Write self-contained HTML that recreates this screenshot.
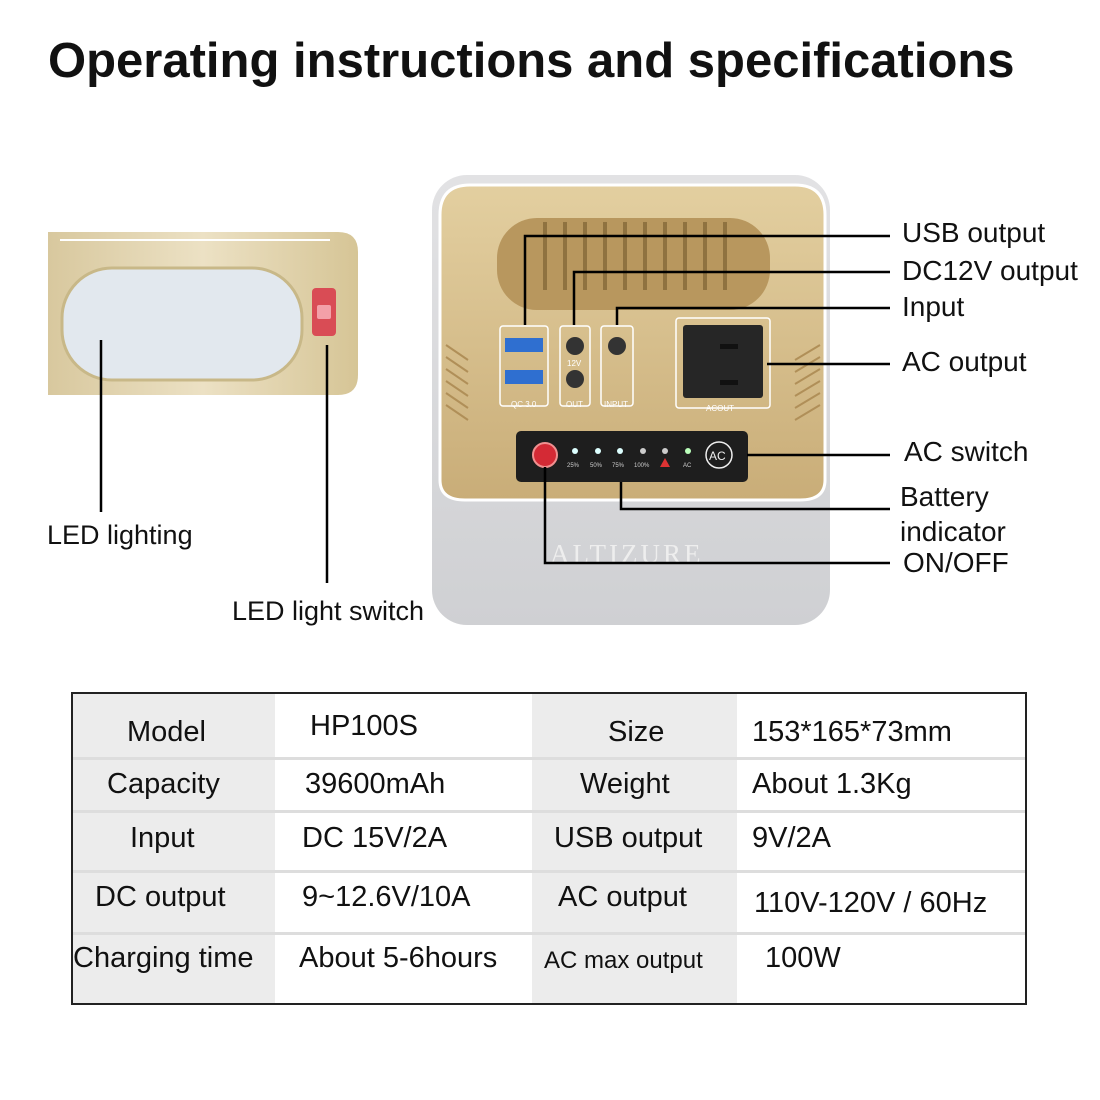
<!DOCTYPE html>
<html><head><meta charset="utf-8"><style>
body{margin:0;width:1100px;height:1100px;background:#fff;position:relative;overflow:hidden;font-family:"Liberation Sans",sans-serif;color:#111}
.a{position:absolute;white-space:nowrap}
.lbl{font-size:28px}
.t{position:absolute;left:71px;top:692px;width:952px;height:309px;border:2px solid #222;}
.c{position:absolute;font-size:29px;white-space:nowrap}
</style></head><body>
<div class="a" style="left:48px;top:33px;font-size:49px;font-weight:bold">Operating instructions and specifications</div>

<svg class="a" style="left:0;top:0" width="1100" height="690">
<defs>
<linearGradient id="gold" x1="0" y1="0" x2="0" y2="1"><stop offset="0" stop-color="#e3cfa0"/><stop offset="1" stop-color="#c9ad78"/></linearGradient>
<linearGradient id="sil" x1="0" y1="0" x2="0" y2="1"><stop offset="0" stop-color="#e2e2e4"/><stop offset="1" stop-color="#cfd0d3"/></linearGradient>
<linearGradient id="pan" x1="0" y1="0" x2="1" y2="0"><stop offset="0" stop-color="#d8c89e"/><stop offset="0.5" stop-color="#ece1c4"/><stop offset="1" stop-color="#d6c596"/></linearGradient>
</defs>
<path d="M48 232 H338 Q358 232 358 252 V375 Q358 395 338 395 H48 Z" fill="url(#pan)"/>
<line x1="60" y1="240" x2="330" y2="240" stroke="#fff" stroke-width="2"/>
<rect x="62" y="268" width="240" height="112" rx="50" fill="#e2e8ee" stroke="#c8b888" stroke-width="3"/>
<rect x="312" y="288" width="24" height="48" rx="4" fill="#d94c55"/>
<rect x="317" y="305" width="14" height="14" rx="2" fill="#f3a0a8"/>
<rect x="432" y="175" width="398" height="450" rx="35" fill="url(#sil)"/>
<path d="M440 215 Q440 185 470 185 H795 Q825 185 825 215 V480 Q825 500 800 500 H465 Q440 500 440 480 Z" fill="url(#gold)" stroke="#fff" stroke-width="3"/>
<rect x="497" y="218" width="273" height="92" rx="40" fill="#b8975e"/>
<g stroke="#8f7240" stroke-width="4">
<line x1="545" y1="222" x2="545" y2="290"/><line x1="565" y1="222" x2="565" y2="290"/><line x1="585" y1="222" x2="585" y2="290"/><line x1="605" y1="222" x2="605" y2="290"/><line x1="625" y1="222" x2="625" y2="290"/><line x1="645" y1="222" x2="645" y2="290"/><line x1="665" y1="222" x2="665" y2="290"/><line x1="685" y1="222" x2="685" y2="290"/><line x1="705" y1="222" x2="705" y2="290"/><line x1="725" y1="222" x2="725" y2="290"/>
</g>
<g fill="none" stroke="#fff" stroke-width="1.5">
<rect x="500" y="326" width="48" height="80" rx="3"/><rect x="560" y="326" width="30" height="80" rx="3"/><rect x="601" y="326" width="32" height="80" rx="3"/><rect x="676" y="318" width="94" height="90" rx="3"/>
</g>
<rect x="505" y="338" width="38" height="14" fill="#2f6fd0"/><rect x="505" y="370" width="38" height="14" fill="#2f6fd0"/>
<circle cx="575" cy="346" r="9" fill="#333"/><circle cx="575" cy="379" r="9" fill="#333"/><circle cx="617" cy="346" r="9" fill="#333"/>
<rect x="683" y="325" width="80" height="73" rx="3" fill="#262626"/>
<rect x="720" y="344" width="18" height="5" fill="#111"/><rect x="720" y="380" width="18" height="5" fill="#111"/>
<g font-size="8" fill="#fff" font-family="Liberation Sans"><text x="511" y="407">QC 3.0</text><text x="566" y="407">OUT</text><text x="604" y="407">INPUT</text><text x="706" y="411">ACOUT</text><text x="567" y="366">12V</text></g>
<g stroke="#b08f58" stroke-width="2"><line x1="446" y1="345" x2="468" y2="360"/><line x1="446" y1="357" x2="468" y2="372"/><line x1="446" y1="369" x2="468" y2="384"/><line x1="446" y1="381" x2="468" y2="396"/><line x1="446" y1="393" x2="468" y2="408"/><line x1="446" y1="405" x2="468" y2="420"/><line x1="795" y1="360" x2="820" y2="345"/><line x1="795" y1="372" x2="820" y2="357"/><line x1="795" y1="384" x2="820" y2="369"/><line x1="795" y1="396" x2="820" y2="381"/><line x1="795" y1="408" x2="820" y2="393"/><line x1="795" y1="420" x2="820" y2="405"/></g>
<rect x="516" y="431" width="232" height="51" rx="5" fill="#1e1e1e"/>
<circle cx="545" cy="455" r="12" fill="#d42a35" stroke="#f09090" stroke-width="2"/>
<circle cx="719" cy="455" r="13" fill="none" stroke="#eee" stroke-width="1.5"/>
<text x="709" y="460" font-size="12" fill="#eee">AC</text>
<g fill="#dff"><circle cx="575" cy="451" r="3"/><circle cx="598" cy="451" r="3"/><circle cx="620" cy="451" r="3"/><circle cx="643" cy="451" r="3" fill="#ccc"/><circle cx="665" cy="451" r="3" fill="#ccc"/><circle cx="688" cy="451" r="3" fill="#bfb"/></g>
<path d="M665 458 L670 467 H660 Z" fill="#d33"/>
<g font-size="6" fill="#ccc"><text x="567" y="467">25%</text><text x="590" y="467">50%</text><text x="612" y="467">75%</text><text x="634" y="467">100%</text><text x="683" y="467">AC</text></g>
<text x="550" y="563" font-family="Liberation Serif" font-size="27" fill="#eee" letter-spacing="3">ALTIZURE</text>
<g stroke="#000" stroke-width="2.5" fill="none">
<polyline points="525,325 525,236 890,236"/>
<polyline points="574,325 574,272 890,272"/>
<polyline points="617,325 617,308 890,308"/>
<polyline points="767,364 890,364"/>
<polyline points="747,455 890,455"/>
<polyline points="621,482 621,509 890,509"/>
<polyline points="545,467 545,563 890,563"/>
<line x1="101" y1="340" x2="101" y2="512"/>
<line x1="327" y1="345" x2="327" y2="583"/>
</g>
</svg>
<div class="a lbl" style="left:902px;top:217px">USB output</div>
<div class="a lbl" style="left:902px;top:255px">DC12V output</div>
<div class="a lbl" style="left:902px;top:291px">Input</div>
<div class="a lbl" style="left:902px;top:346px">AC output</div>
<div class="a lbl" style="left:904px;top:436px">AC switch</div>
<div class="a lbl" style="left:900px;top:481px">Battery</div>
<div class="a lbl" style="left:900px;top:516px">indicator</div>
<div class="a lbl" style="left:903px;top:547px">ON/OFF</div>
<div class="a lbl" style="left:47px;top:520px;font-size:27px">LED lighting</div>
<div class="a lbl" style="left:232px;top:596px;font-size:27px">LED light switch</div>

<div class="t">
<div class="a" style="left:0;top:0;width:202px;height:309px;background:#ececec"></div>
<div class="a" style="left:459px;top:0;width:205px;height:309px;background:#ececec"></div>
<div class="a" style="left:0;top:63px;width:952px;height:3px;background:#ddd"></div>
<div class="a" style="left:0;top:116px;width:952px;height:3px;background:#ddd"></div>
<div class="a" style="left:0;top:176px;width:952px;height:3px;background:#ddd"></div>
<div class="a" style="left:0;top:238px;width:952px;height:3px;background:#ddd"></div>
<div class="c" style="left:54px;top:22px">Model</div><div class="c" style="left:237px;top:16px">HP100S</div><div class="c" style="left:535px;top:22px">Size</div><div class="c" style="left:679px;top:22px">153*165*73mm</div>
<div class="c" style="left:34px;top:74px">Capacity</div><div class="c" style="left:232px;top:74px">39600mAh</div><div class="c" style="left:507px;top:74px">Weight</div><div class="c" style="left:679px;top:74px">About 1.3Kg</div>
<div class="c" style="left:57px;top:128px">Input</div><div class="c" style="left:229px;top:128px">DC 15V/2A</div><div class="c" style="left:481px;top:128px">USB output</div><div class="c" style="left:679px;top:128px">9V/2A</div>
<div class="c" style="left:22px;top:187px">DC output</div><div class="c" style="left:229px;top:187px">9~12.6V/10A</div><div class="c" style="left:485px;top:187px">AC output</div><div class="c" style="left:681px;top:193px">110V-120V / 60Hz</div>
<div class="c" style="left:0px;top:248px">Charging time</div><div class="c" style="left:226px;top:248px">About 5-6hours</div><div class="c" style="left:471px;top:253px;font-size:24px">AC max output</div><div class="c" style="left:692px;top:248px">100W</div>
</div>
</body></html>
